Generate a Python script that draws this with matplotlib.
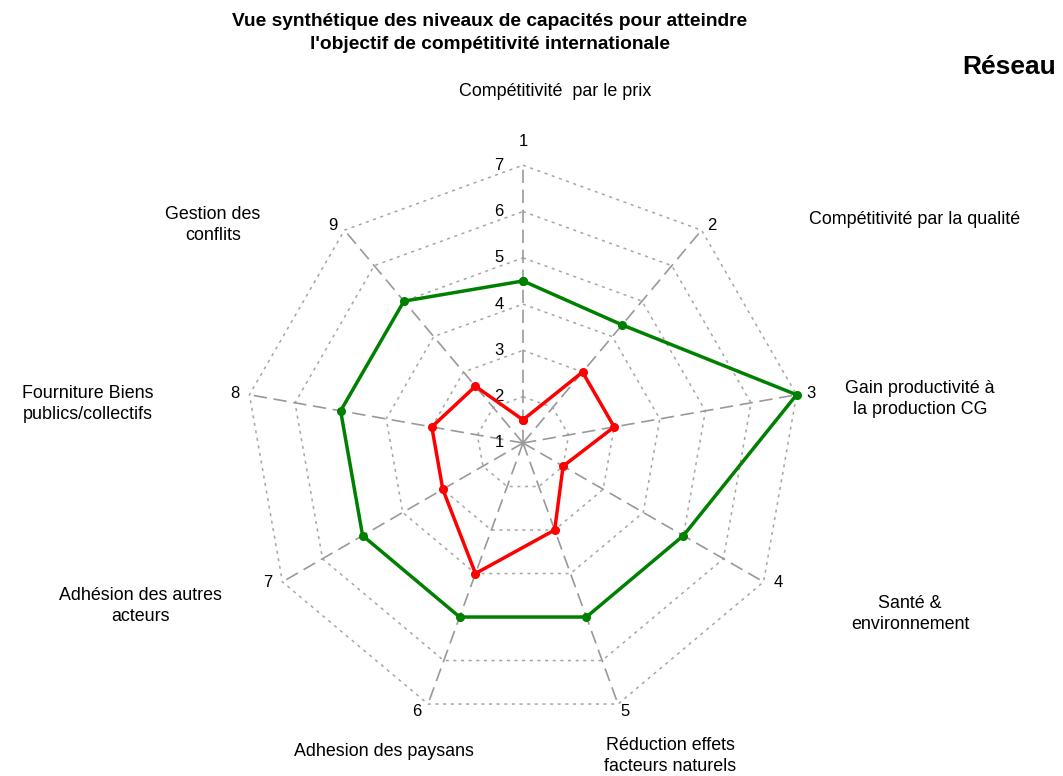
import numpy as np
import matplotlib.pyplot as plt

plt.rcParams['font.family'] = ['Liberation Sans', 'DejaVu Sans']

#_____________________data
axis_numbers = ['1', '2', '3', '4', '5', '6', '7', '8', '9']
axis_names = ['Compétitivité  par le prix', 'Compétitivité par la qualité',
              'Gain productivité à\nla production CG', 'Santé &\nenvironnement',
              'Réduction effets\nfacteurs naturels', 'Adhesion des paysans',
              'Adhésion des autres\nacteurs', 'Fourniture Biens\npublics/collectifs',
              'Gestion des\nconflits']
green_values = [4.5, 4.33, 7, 5, 5, 5, 5, 5, 5]
red_values = [1.5, 3, 3, 2, 3, 4, 3, 3, 2.6]
scale_ticks = [1, 2, 3, 4, 5, 6, 7]

#_____________________figure (data units: 1 level = 46.3 px, centre at pixel 523,443)
W, H = 1063, 776
cx, cy, unit = 523, 443, 46.3
fig = plt.figure(figsize=(W / 100, H / 100), dpi=100)
ax = fig.add_axes([0, 0, 1, 1])
ax.set_xlim(-cx / unit, (W - cx) / unit)
ax.set_ylim((cy - H) / unit, cy / unit)
ax.set_aspect('equal')
ax.axis('off')

n = len(axis_numbers)
angles = np.pi / 2 - np.arange(n) * 2 * np.pi / n  # clockwise from top


def to_xy(vals):
    r = np.array(vals, dtype=float) - 1
    x = r * np.cos(angles)
    y = r * np.sin(angles)
    return np.append(x, x[0]), np.append(y, y[0])


def px(x, y):
    # pixel position -> data coords
    return (x - cx) / unit, (cy - y) / unit


#_____________________grid rings
for t in scale_ticks[1:]:
    gx, gy = to_xy([t] * n)
    ax.plot(gx, gy, color='#a6a6a6', lw=1.1, linestyle=(0, (2, 3)), zorder=1)

#_____________________spokes
top = max(scale_ticks) - 1
for a in angles:
    ax.plot([0, top * np.cos(a)], [0, top * np.sin(a)], color='#999999', lw=1.2,
            linestyle=(0, (8, 4)), zorder=2)

#_____________________series
gx, gy = to_xy(green_values)
ax.plot(gx, gy, color='#008000', lw=2.5, marker='o', markersize=5.5, zorder=4)
rx, ry = to_xy(red_values)
ax.plot(rx, ry, color='#ff0000', lw=2.5, marker='o', markersize=5.5, zorder=4)

#_____________________scale labels
for t in scale_ticks:
    ax.text(-0.42, t - 1, str(t), ha='right', va='center', fontsize=12, color='black')

#_____________________axis numbers near outer vertices (pixel offsets)
num_offsets = [(0, -24), (10, -5), (14, -1), (15, 1), (7, 7),
               (-11, 7), (-15, 1), (-15, -1), (-11, -5)]
for i, a in enumerate(angles):
    x = top * np.cos(a) + num_offsets[i][0] / unit
    y = top * np.sin(a) - num_offsets[i][1] / unit
    ax.text(x, y, axis_numbers[i], ha='center', va='center', fontsize=12)

#_____________________axis names
name_pos = [(555, 91), (915, 220), (920, 399), (910, 614), (670, 756),
            (384, 751), (140, 606), (88, 404), (213, 225)]
for name, (x, y) in zip(axis_names, name_pos):
    ax.text(*px(x, y), name, ha='center', va='center', fontsize=12.9, linespacing=1.32)

#_____________________titles
ax.text(*px(490, 33), "Vue synthétique des niveaux de capacités pour atteindre\n"
        "l'objectif de compétitivité internationale", ha='center', va='center',
        fontsize=13.8, fontweight='bold', linespacing=1.4)
ax.text(*px(962, 67), 'Réseau', ha='left', va='center', fontsize=19, fontweight='bold')

plt.savefig('out.png', dpi=100)
